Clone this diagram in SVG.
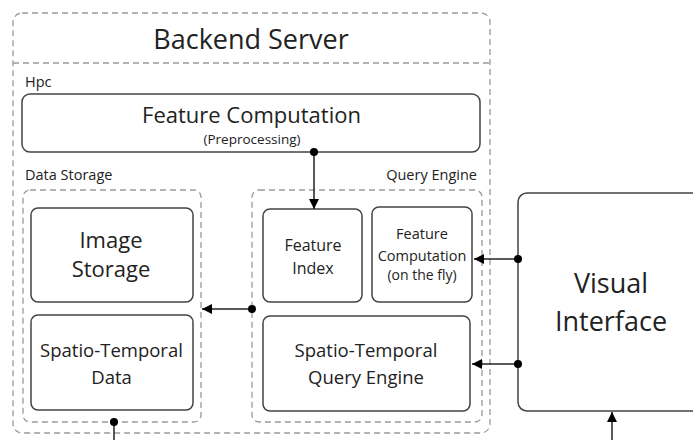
<svg xmlns="http://www.w3.org/2000/svg" width="693" height="440" viewBox="0 0 693 440">
  <style>
    .dash { fill: none; stroke: #9a9a9a; stroke-width: 1.3; stroke-dasharray: 6 4; }
    .box { fill: #fff; stroke: #444; stroke-width: 1.5; }
    .t { font-family: "Open Sans", "Noto Sans", sans-serif; fill: #222; text-anchor: middle; }
    .lbl { font-family: "Open Sans", "Noto Sans", sans-serif; fill: #222; font-size: 14.5px; }
    .wire { fill: none; stroke: #222; stroke-width: 1.5; }
    .dot { fill: #000; }
  </style>
  <defs>
    <marker id="arrow" viewBox="0 0 10 10" refX="10" refY="5" markerWidth="10" markerHeight="10" markerUnits="userSpaceOnUse" orient="auto">
      <path d="M0,0 L10,5 L0,10 Z" fill="#000"/>
    </marker>
  </defs>
  <rect width="693" height="440" fill="#fff"/>

  <!-- Backend server container -->
  <g id="backend-server">
    <rect class="dash" x="13" y="13" width="477" height="420" rx="9"/>
    <line class="dash" x1="13" y1="63" x2="490" y2="63"/>
    <text class="t" x="251" y="49" font-size="27">Backend Server</text>
    <text class="lbl" x="25" y="87">Hpc</text>
  </g>

  <g id="feature-computation">
    <rect class="box" x="22" y="94" width="458" height="58" rx="8"/>
    <text class="t" x="251.5" y="123" font-size="22">Feature Computation</text>
    <text class="t" x="252" y="144" font-size="13.5">(Preprocessing)</text>
  </g>

  <!-- Data storage group -->
  <g id="data-storage">
    <text class="lbl" x="25" y="180">Data Storage</text>
    <rect class="dash" x="23" y="190" width="178" height="232" rx="7"/>
  </g>
  <g id="image-storage">
    <rect class="box" x="31" y="208" width="162" height="94" rx="7"/>
    <text class="t" x="111" y="248" font-size="22">Image</text>
    <text class="t" x="111" y="277" font-size="22">Storage</text>
  </g>
  <g id="spatio-temporal-data">
    <rect class="box" x="31" y="315" width="162" height="95" rx="7"/>
    <text class="t" x="111.5" y="357" font-size="18.5">Spatio-Temporal</text>
    <text class="t" x="111.5" y="384" font-size="18.5">Data</text>
  </g>

  <!-- Query engine group -->
  <g id="query-engine">
    <text class="lbl" x="477" y="180" text-anchor="end">Query Engine</text>
    <rect class="dash" x="252" y="190" width="230" height="232" rx="7"/>
  </g>
  <g id="feature-index">
    <rect class="box" x="263" y="209" width="99" height="93" rx="7"/>
    <text class="t" x="313" y="251" font-size="16">Feature</text>
    <text class="t" x="313" y="274" font-size="16">Index</text>
  </g>
  <g id="feature-computation-fly">
    <rect class="box" x="372" y="207" width="100" height="95" rx="7"/>
    <text class="t" x="422" y="239" font-size="14.5">Feature</text>
    <text class="t" x="422" y="261" font-size="14.5">Computation</text>
    <text class="t" x="422" y="280" font-size="14">(on the fly)</text>
  </g>
  <g id="spatio-temporal-query-engine">
    <rect class="box" x="263" y="316" width="207" height="95" rx="7"/>
    <text class="t" x="366" y="357" font-size="18.5">Spatio-Temporal</text>
    <text class="t" x="366" y="384" font-size="18.5">Query Engine</text>
  </g>

  <!-- Visual interface -->
  <g id="visual-interface">
    <rect class="box" x="518" y="193" width="190" height="218" rx="9"/>
    <text class="t" x="611" y="293" font-size="27">Visual</text>
    <text class="t" x="611" y="331" font-size="27">Interface</text>
  </g>

  <!-- Connectors -->
  <g id="connectors">
    <line class="wire" x1="314" y1="152" x2="314" y2="209" marker-end="url(#arrow)"/>
    <circle class="dot" cx="314" cy="152" r="4"/>

    <line class="wire" x1="252" y1="309" x2="202" y2="309" marker-end="url(#arrow)"/>
    <circle class="dot" cx="252" cy="309" r="4"/>

    <line class="wire" x1="518" y1="259" x2="474" y2="259" marker-end="url(#arrow)"/>
    <circle class="dot" cx="518" cy="259" r="4"/>

    <line class="wire" x1="518" y1="364" x2="472" y2="364" marker-end="url(#arrow)"/>
    <circle class="dot" cx="518" cy="364" r="4"/>

    <line class="wire" x1="114" y1="422" x2="114" y2="440"/>
    <circle class="dot" cx="114" cy="422" r="4"/>

    <line class="wire" x1="612" y1="440" x2="612" y2="412" marker-end="url(#arrow)"/>
  </g>
</svg>
